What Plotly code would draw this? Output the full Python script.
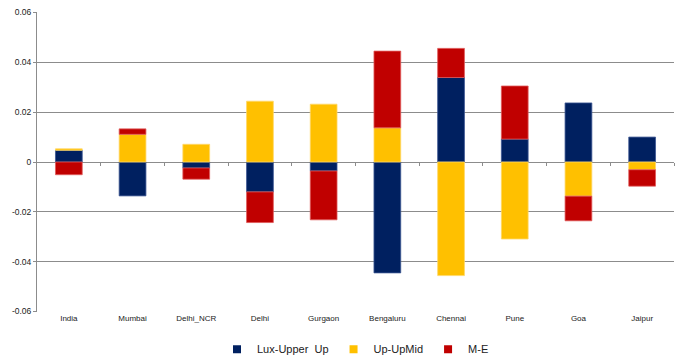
import plotly.graph_objects as go

cities = ["India", "Mumbai", "Delhi_NCR", "Delhi", "Gurgaon",
          "Bengaluru", "Chennai", "Pune", "Goa", "Jaipur"]

lux_upper_up = [0.0047, -0.0136, -0.0024, -0.0120, -0.0036,
                -0.0445, 0.0339, 0.0092, 0.0237, 0.0100]
up_upmid = [0.0006, 0.0111, 0.0071, 0.0244, 0.0232,
            0.0137, -0.0456, -0.0309, -0.0137, -0.0031]
m_e = [-0.0051, 0.0022, -0.0045, -0.0123, -0.0196,
       0.0308, 0.0117, 0.0213, -0.0099, -0.0066]

y_ticks = [-0.06, -0.04, -0.02, 0, 0.02, 0.04, 0.06]
y_tick_text = ["-0.06", "-0.04", "-0.02", "0", "0.02", "0.04", "0.06"]

series = [
    ("Lux-Upper\u00a0 Up", lux_upper_up, "#002060", "#3b5692"),
    ("Up-UpMid", up_upmid, "#FFC000", "#ffd766"),
    ("M-E", m_e, "#C00000", "#e05a5a"),
]

fig = go.Figure()
for name, vals, color, edge in series:
    fig.add_trace(go.Bar(
        x=cities, y=vals, name=name, showlegend=False,
        marker=dict(color=color, line=dict(color=edge, width=0.8)),
    ))

# small square legend keys (empty traces on the overlay axis)
for name, vals, color, edge in series:
    fig.add_trace(go.Scatter(
        x=[None], y=[None], mode="markers", name=name, xaxis="x2",
        marker=dict(symbol="square", size=8, color=color),
    ))

grey = "#8c8c8c"
fig.update_layout(
    width=679, height=358,
    barmode="relative",
    bargap=0.58,
    plot_bgcolor="white",
    paper_bgcolor="white",
    margin=dict(l=37, r=5, t=12, b=46, autoexpand=False),
    font=dict(family="Liberation Sans, Arial, sans-serif", color="#222222"),
    showlegend=True,
    legend=dict(
        orientation="h", x=0.5, xanchor="center", y=-0.124, yanchor="middle",
        font=dict(size=11, color="#222222"), itemwidth=30,
        traceorder="normal", tracegroupgap=0,
    ),
    xaxis=dict(
        type="category", showgrid=False, zeroline=False, showline=False,
        ticks="", tickfont=dict(size=8), range=[-0.5, 9.5],
    ),
    xaxis2=dict(
        type="linear", overlaying="x", anchor="free", position=0.5,
        range=[-0.5, 9.5], tickvals=[i + 0.5 for i in range(10)],
        ticks="outside", ticklen=3, tickcolor=grey, tickwidth=1,
        showticklabels=False, showgrid=False, zeroline=False, showline=False,
    ),
    yaxis=dict(
        range=[-0.0602, 0.0602], tickvals=y_ticks, ticktext=y_tick_text,
        showgrid=True, gridcolor=grey, gridwidth=1,
        zeroline=True, zerolinecolor=grey, zerolinewidth=1,
        showline=True, linecolor=grey, linewidth=1,
        ticks="outside", ticklen=3, tickcolor=grey,
        tickfont=dict(size=8.5),
    ),
)

fig.write_html("out.html")
